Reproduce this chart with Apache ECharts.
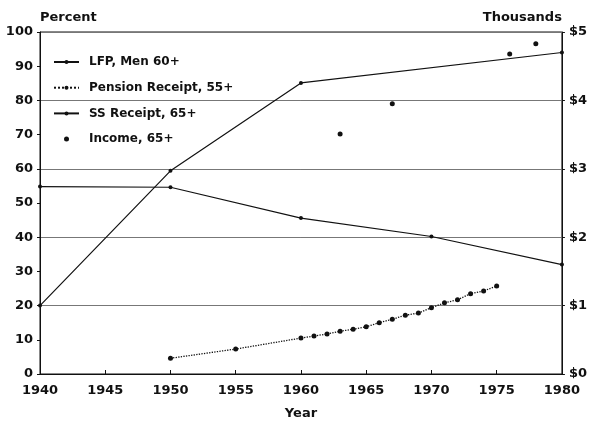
<!DOCTYPE html>
<html>
<head>
<meta charset="utf-8">
<script src="https://cdn.jsdelivr.net/npm/echarts@6/dist/echarts.min.js"></script>
<style>html,body{margin:0;padding:0;background:#fff}#c{width:590px;height:425px}</style>
</head>
<body>
<div id="c"></div>
<script>
// Data
const lfpMen60 = [[1940,54.8],[1950,54.6],[1960,45.6],[1970,40.2],[1980,32.0]];
const pensionReceipt55 = [[1950,4.6],[1955,7.3],[1960,10.5],[1961,11.1],[1962,11.7],[1963,12.5],[1964,13.1],[1965,13.8],[1966,15.0],[1967,16.0],[1968,17.2],[1969,17.8],[1970,19.4],[1971,20.8],[1972,21.7],[1973,23.5],[1974,24.3],[1975,25.7]];
const ssReceipt65 = [[1940,20.0],[1950,59.4],[1960,85.1],[1980,94.0]];
const income65Thousands = [[1963,3.51],[1967,3.95],[1976,4.68],[1978,4.83]];
const seriesNames = ['LFP, Men 60+','Pension Receipt, 55+','SS Receipt, 65+','Income, 65+'];

const FONT = 'DejaVu Sans';
const INK = '#111';
const chart = echarts.init(document.getElementById('c'), null, {renderer:'canvas'});
chart.setOption({
  animation:false,
  backgroundColor:'#fff',
  textStyle:{fontFamily:FONT,color:INK},
  grid:{left:40,right:27,top:32,bottom:48,show:true,borderColor:INK,borderWidth:1,backgroundColor:'transparent'},
  legend:{
    orient:'vertical',left:48,top:50,itemWidth:25,itemHeight:5,itemGap:11.7,
    data:seriesNames,
    textStyle:{fontFamily:FONT,fontSize:12,fontWeight:'bold',color:INK,padding:[0,0,0,5],lineHeight:14}
  },
  xAxis:{
    type:'value',min:1940,max:1980,interval:5,
    name:'Year',nameLocation:'middle',nameGap:33,
    nameTextStyle:{fontFamily:FONT,fontSize:13,fontWeight:'bold',color:INK},
    axisLine:{show:true,lineStyle:{color:INK,width:1}},
    axisTick:{show:true,inside:true,length:4,lineStyle:{color:INK}},
    axisLabel:{fontFamily:FONT,fontSize:13,fontWeight:'bold',color:INK,margin:10,formatter:v=>String(v)},
    splitLine:{show:false}
  },
  yAxis:[{
    type:'value',min:0,max:100,interval:10,position:'left',
    name:'Percent',nameLocation:'end',nameGap:14,
    nameTextStyle:{fontFamily:FONT,fontSize:13,fontWeight:'bold',color:INK,align:'left',verticalAlign:'middle'},
    axisLine:{show:true,lineStyle:{color:INK,width:1}},
    axisTick:{show:true,length:3,lineStyle:{color:INK}},
    axisLabel:{fontFamily:FONT,fontSize:13,fontWeight:'bold',color:INK,margin:7},
    splitLine:{show:false}
  },{
    type:'value',min:0,max:5,interval:1,position:'right',
    name:'Thousands',nameLocation:'end',nameGap:14,
    nameTextStyle:{fontFamily:FONT,fontSize:13,fontWeight:'bold',color:INK,align:'right',verticalAlign:'middle'},
    axisLine:{show:true,lineStyle:{color:INK,width:1}},
    axisTick:{show:true,length:3,lineStyle:{color:INK}},
    axisLabel:{fontFamily:FONT,fontSize:13,fontWeight:'bold',color:INK,margin:7,formatter:v=>'$'+v},
    splitLine:{show:true,lineStyle:{color:'#777',width:1}}
  }],
  series:[
    {name:seriesNames[0],type:'line',data:lfpMen60,symbol:'circle',symbolSize:4,
     lineStyle:{color:INK,width:1.2},itemStyle:{color:INK},z:5},
    {name:seriesNames[1],type:'line',data:pensionReceipt55,symbol:'circle',symbolSize:5,
     lineStyle:{color:INK,width:1.3,type:'dotted'},itemStyle:{color:INK},z:5},
    {name:seriesNames[2],type:'line',data:ssReceipt65,symbol:'circle',symbolSize:4,
     lineStyle:{color:INK,width:1.2},itemStyle:{color:INK},z:5},
    {name:seriesNames[3],type:'scatter',yAxisIndex:1,data:income65Thousands,symbol:'circle',symbolSize:5,
     itemStyle:{color:INK,opacity:1},z:5}
  ]
});
</script>
</body>
</html>
